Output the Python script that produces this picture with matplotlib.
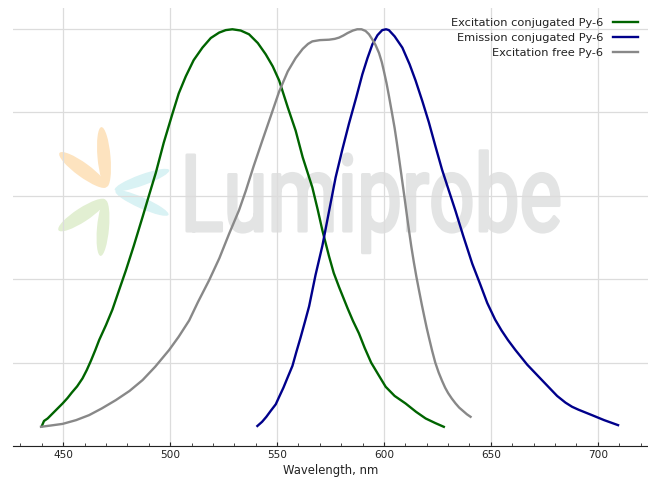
import numpy as np
import matplotlib
matplotlib.use("Agg")
import matplotlib.pyplot as plt
from matplotlib.ticker import MultipleLocator
from matplotlib.textpath import TextPath
from matplotlib.font_manager import FontProperties
from matplotlib.patches import PathPatch, Ellipse
from matplotlib.transforms import Affine2D, IdentityTransform

# Excitation, conjugated Py-6
exc_conj_wl = [440.0, 441, 442.7, 446, 449.7, 452, 454, 456.5, 459, 461, 463, 465, 466.8, 470,
               473, 476, 479.3, 483, 487.1, 490, 493.3, 497, 501.1, 504, 507.3, 511, 515.1,
               519, 522.9, 526, 529.1, 533, 536.9, 541, 544.7, 548, 551, 555, 558.7, 562,
               566.5, 569, 571.2, 574.3, 576.5, 579, 583, 585.5, 588.3, 591, 594, 597.5,
               600.8, 605, 610.1, 615, 619.5, 624, 628]
exc_conj_val = [0.048, 0.060, 0.066, 0.083, 0.102, 0.115, 0.128, 0.143, 0.162, 0.182, 0.205, 0.230,
                0.254, 0.290, 0.327, 0.372, 0.421, 0.480, 0.549, 0.599, 0.655, 0.727, 0.797, 0.845,
                0.886, 0.925, 0.955, 0.978, 0.991, 0.997, 0.999, 0.996, 0.987, 0.966, 0.939, 0.910,
                0.876, 0.812, 0.756, 0.692, 0.620, 0.567, 0.517, 0.455, 0.415, 0.381, 0.330, 0.300,
                0.270, 0.235, 0.200, 0.170, 0.142, 0.120, 0.102, 0.082, 0.066, 0.055, 0.046]

# Emission, conjugated Py-6
em_conj_wl = [540.8, 543, 545, 547, 549.4, 551, 553, 555, 557.2, 559, 561, 563, 565, 568, 571.2,
              574.4, 577.4, 580.5, 583.6, 587, 589.9, 592.3, 594.6, 597, 599.2, 601, 602.3, 605,
              608.6, 612, 614.8, 618, 621, 624, 627.2, 630.5, 633.5, 637, 641.3, 645, 648.3,
              652, 655, 658, 661.5, 667, 672.4, 678, 681, 684.9, 688, 691, 697.3, 703, 709.5]
em_conj_val = [0.048, 0.058, 0.070, 0.084, 0.100, 0.118, 0.140, 0.165, 0.192, 0.225, 0.260, 0.297,
               0.335, 0.410, 0.480, 0.565, 0.644, 0.710, 0.772, 0.835, 0.891, 0.930, 0.963, 0.985,
               0.997, 0.999, 0.997, 0.982, 0.955, 0.915, 0.876, 0.826, 0.776, 0.720, 0.662, 0.610,
               0.563, 0.505, 0.437, 0.388, 0.343, 0.303, 0.277, 0.254, 0.230, 0.195, 0.166, 0.136,
               0.120, 0.104, 0.094, 0.087, 0.074, 0.062, 0.050]

# Excitation, free Py-6
exc_free_wl = [439.6, 444, 449.7, 456, 462.1, 468, 474.6, 481, 487.1, 493, 499.5, 504, 508.9,
               513, 518.2, 523, 527.6, 532.2, 535.4, 539, 543.1, 547, 551, 555, 558.7, 562,
               564.5, 566.5, 570, 574.3, 577, 579, 581, 583, 585.5, 587.5, 589.5, 591.4, 593,
               594.5, 596, 597.7, 599, 600, 601.2, 602.3, 603.7, 605, 606, 607, 608.2, 609.5,
               610.6, 611.7, 612.8, 614, 615.2, 616.4, 617.7, 619, 620, 621, 622.5, 624, 625.6,
               627.2, 628.6, 630, 631.7, 633.5, 635.2, 637, 638.8, 640.5]
exc_free_val = [0.046, 0.049, 0.053, 0.062, 0.074, 0.090, 0.110, 0.132, 0.158, 0.190, 0.230, 0.262,
                0.301, 0.345, 0.397, 0.450, 0.509, 0.565, 0.612, 0.670, 0.732, 0.790, 0.850, 0.898,
                0.930, 0.952, 0.964, 0.970, 0.973, 0.974, 0.976, 0.979, 0.984, 0.990, 0.996, 0.999,
                0.999, 0.995, 0.987, 0.975, 0.962, 0.942, 0.920, 0.898, 0.870, 0.840, 0.800, 0.762,
                0.728, 0.692, 0.648, 0.600, 0.558, 0.517, 0.478, 0.440, 0.405, 0.373, 0.339, 0.307,
                0.283, 0.261, 0.229, 0.200, 0.176, 0.156, 0.140, 0.127, 0.114, 0.102, 0.092, 0.084,
                0.076, 0.070]

labels = ["Excitation conjugated Py-6", "Emission conjugated Py-6", "Excitation free Py-6"]
colors = ["#006400", "#00008b", "#888888"]

fig = plt.figure(figsize=(6.48, 4.79), dpi=100)
ax = fig.add_axes([13 / 648, 1 - 446 / 479, 1 - 13 / 648, 438 / 479])

ax.plot(exc_conj_wl, exc_conj_val, color=colors[0], lw=1.7, label=labels[0], zorder=3)
ax.plot(em_conj_wl, em_conj_val, color=colors[1], lw=1.7, label=labels[1], zorder=3)
ax.plot(exc_free_wl, exc_free_val, color=colors[2], lw=1.7, label=labels[2], zorder=3)

ax.set_xlim(426.5, 723.5)
ax.set_ylim(0, 1.05)
ax.xaxis.set_major_locator(MultipleLocator(50))
ax.xaxis.set_minor_locator(MultipleLocator(10))
ax.yaxis.set_major_locator(MultipleLocator(0.2))
ax.tick_params(axis="x", which="major", direction="in", length=3, pad=3, labelsize=7.6,
               colors="#222222")
ax.tick_params(axis="x", which="minor", direction="in", length=2.5, color="#222222")
ax.tick_params(axis="y", left=False, labelleft=False)
for s in ["left", "top", "right"]:
    ax.spines[s].set_visible(False)
ax.spines["bottom"].set_color("#222222")
ax.grid(True, which="major", color="#dcdcdc", lw=0.9, zorder=0)
ax.set_axisbelow(True)
ax.set_xlabel("Wavelength, nm", fontsize=8.4, labelpad=3, color="#222222")

leg = ax.legend(loc="upper right", frameon=False, markerfirst=False, fontsize=8.2,
                handlelength=2.2, handletextpad=0.9, labelspacing=0.45, borderaxespad=0.45)
for t in leg.get_texts():
    t.set_color("#222222")

# watermark: Lumiprobe logo (drawn under the axes so the grid shows through)
tp = TextPath((0, 0), "Lumiprobe", size=1, prop=FontProperties(family="Roboto"))
ext = tp.get_extents()
sx = 372 / ext.width
sy = 76 / 0.711
wm = PathPatch(tp, transform=Affine2D().translate(-ext.x0, 0).scale(sx, sy).translate(187, 479 - 231)
               + IdentityTransform(), facecolor="#e3e4e4", edgecolor="#e3e4e4", lw=2.2,
               joinstyle="round", zorder=1)
fig.patches.append(wm)
wm.set_figure(fig)

petals = [((104, 157), 60, 13, -85, "#fde3bf"),
          ((83, 170), 58, 14, -36, "#fde3bf"),
          ((142, 180), 58, 11, 20, "#d9f2f4"),
          ((142, 203), 58, 11, -24, "#d9f2f4"),
          ((82, 215), 56, 14, 33, "#e2efd2"),
          ((103, 228), 56, 12, 85, "#e2efd2")]
for (cx, cy), w, h, ang, c in petals:
    e = Ellipse((cx, 479 - cy), w, h, angle=ang, color=c, lw=0, transform=IdentityTransform())
    e.set_figure(fig)
    fig.patches.append(e)

ax.set_zorder(2)
ax.patch.set_alpha(0)

fig.savefig("out.png", dpi=100)
